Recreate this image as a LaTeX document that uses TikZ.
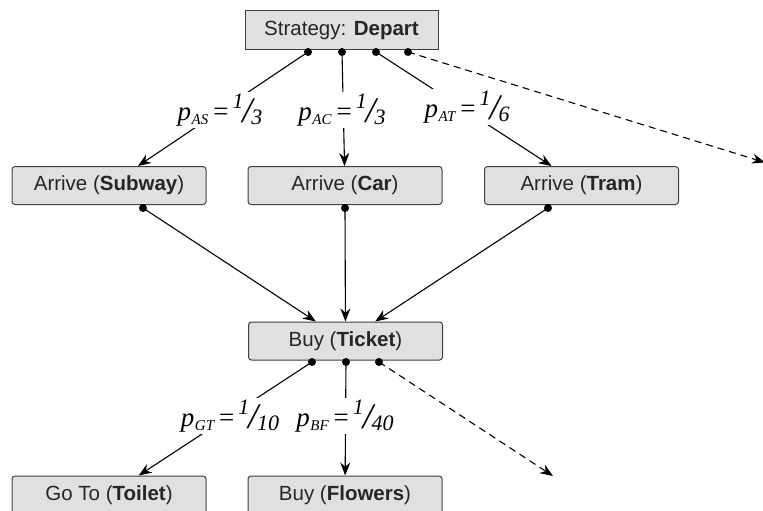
\documentclass[tikz,border=0pt]{standalone}
\usepackage{fontspec}
\setmainfont{Liberation Sans}
\newfontfamily\probfont{Liberation Serif}
\usetikzlibrary{arrows.meta}
\newcommand{\prob}[2]{{\probfont\itshape\fontsize{27}{27}\selectfont p\kern0.02em\raisebox{-0.16em}{\fontsize{15}{15}\selectfont #1}\kern0.12em=\kern0.1em\raisebox{0.42em}{\fontsize{22}{22}\selectfont 1}\kern-0.04em\raisebox{-0.08em}{\fontsize{36}{36}\selectfont /}\kern-0.04em\raisebox{-0.16em}{\fontsize{22}{22}\selectfont #2}}}

\begin{document}
\begin{tikzpicture}[x=1pt,y=-1pt,
    box/.style={draw=black!75,line width=1pt,fill=black!12,rounded corners=3pt,
        minimum width=194pt,minimum height=38pt,text=black!85,
        font=\fontsize{20.5}{24}\selectfont},
    prob/.style={fill=white,inner sep=2pt},
    dot/.style={circle,fill=black,inner sep=0pt,minimum size=8pt},
    link/.style={line width=1.1pt,-{Stealth[length=13pt,width=10pt]}}]
\useasboundingbox (0,0) rectangle (763,511);
\clip (0,0) rectangle (763,511);
\node[box,rounded corners=0pt,minimum width=193pt,minimum height=39pt] (depart) at (341.5,30.5) {Strategy: \textbf{Depart}};
\node[box] (sub) at (109,185.5) {Arrive (\textbf{Subway})};
\node[box] (car) at (345,185.5) {Arrive (\textbf{Car})};
\node[box] (tram) at (581.5,185.5) {Arrive (\textbf{Tram})};
\node[box] (ticket) at (345.5,341) {Buy (\textbf{Ticket})};
\node[box] (toilet) at (109,495) {Go To (\textbf{Toilet})};
\node[box] (flowers) at (345,495) {Buy (\textbf{Flowers})};
\coordinate (far) at (765,162.5);
\coordinate (away) at (553,476);
\node[dot] (d1) at (308,52) {};
\node[dot] (d2) at (342,52) {};
\node[dot] (d3) at (376,52) {};
\node[dot] (d4) at (408,52) {};
\draw[link] (d1.center) -- (sub);
\draw[link] (d2.center) -- (car);
\draw[link] (d3.center) -- (tram);
\draw[link,dash pattern=on 7pt off 5pt] (d4.center) -- (far);
\foreach \n/\x in {sub/143,car/345,tram/548}
{
    \node[dot] (\n dot) at (\x,208) {};
    \draw[link] (\n dot.center) -- (ticket);
}
\node[dot] (t1) at (312,362) {};
\node[dot] (t2) at (346,362) {};
\node[dot] (t3) at (379,362) {};
\draw[link] (t1.center) -- (toilet);
\draw[link] (t2.center) -- (flowers);
\draw[link,dash pattern=on 7pt off 5pt] (t3.center) -- (away);
\node[prob] (pas) at (220,110) {\prob{AS}{3}};
\node[prob] (pac) at (342,110) {\prob{AC}{3}};
\node[prob] (pat) at (467,107) {\prob{AT}{6}};
\node[prob] (pgt) at (230,416) {\prob{GT}{10}};
\node[prob] (pbf) at (345,416) {\prob{BF}{40}};
\end{tikzpicture}
\end{document}
